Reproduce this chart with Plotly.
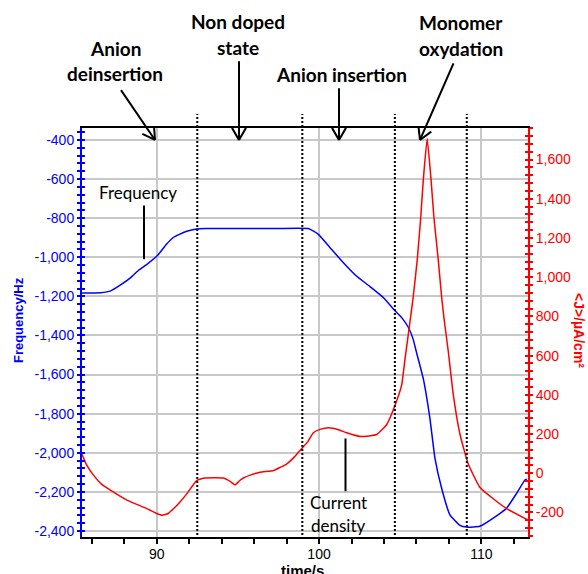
import math
import plotly.graph_objects as go

# ---------------- data ----------------
time_freq = [85.4, 86.0, 86.55, 87.17, 87.75, 88.4, 88.9, 89.4, 90.06, 90.6, 91.02, 91.4,
             91.85, 92.46, 93.0, 95.0, 97.0, 99.34, 99.96, 100.68, 101.5, 102.3, 103.14,
             103.96, 104.68, 105.1, 105.5, 105.8, 106.0, 106.42, 106.83, 107.14, 107.55,
             108.06, 108.68, 109.09, 109.9, 110.73, 111.55, 112.17, 112.68, 112.8]
freq_hz = [-1183, -1183, -1182, -1172, -1143, -1104, -1065, -1036, -990, -934, -899, -883,
           -867, -855, -853, -853, -853, -853, -883, -951, -1028, -1096, -1150,
           -1206, -1274, -1310, -1358, -1420, -1486, -1621, -1825, -2028, -2181,
           -2317, -2371, -2380, -2376, -2334, -2283, -2207, -2139, -2135]

time_cur = [85.4, 85.7, 86.13, 86.6, 87.17, 88.2, 89.4, 90.0, 90.33, 90.7, 91.05, 91.45,
            91.85, 92.46, 92.97, 94.1, 94.5, 94.83, 95.1, 95.34, 95.8, 96.37, 97.2, 97.6,
            98.0, 98.5, 98.9, 99.3, 99.65, 100.06, 100.6, 101.2, 101.7, 102.6, 103.55,
            104.17, 104.68, 105.09, 105.3, 105.58, 105.8, 106.05, 106.26, 106.42, 106.66,
            106.9, 107.08, 107.34, 107.55, 107.7, 107.96, 108.27, 108.68, 109.19, 109.9,
            110.73, 111.55, 112.88]
current = [97, 40, -12, -55, -87, -138, -180, -205, -214, -205, -180, -145,
           -105, -37, -24, -24, -40, -59, -38, -24, -8, 5, 14, 30,
           47, 85, 123, 160, 207, 224, 232, 222, 207, 187, 198,
           249, 347, 451, 586, 760, 899, 1091, 1301, 1495, 1707,
           1495, 1301, 1091, 899, 788, 621, 400, 199, 47, -71,
           -130, -180, -239]

left_ticks = [-2400, -2200, -2000, -1800, -1600, -1400, -1200, -1000, -800, -600, -400]
left_labels = ["-2,400", "-2,200", "-2,000", "-1,800", "-1,600", "-1,400", "-1,200",
               "-1,000", "-800", "-600", "-400"]
right_ticks = [-200, 0, 200, 400, 600, 800, 1000, 1200, 1400, 1600]
right_labels = ["-200", "0", "200", "400", "600", "800", "1,000", "1,200", "1,400", "1,600"]
x_ticks = [90, 100, 110]
x_labels = ["90", "100", "110"]
phase_bounds = [92.5, 98.97, 104.67, 109.1]

X_RANGE = [85.4, 112.87]
Y_RANGE = [-2430.5, -339]
Y2_RANGE = [-325, 1761]

# ---------------- layout helpers ----------------
W, H = 588, 574
L, R, T, B = 82, 528, 128, 539


def px(x):
    return (x - L) / (R - L)


def py(y):
    return (B - y) / (B - T)


def tx(t):
    return (t - X_RANGE[0]) / (X_RANGE[1] - X_RANGE[0])


BLUE = "#0000ff"
RED = "#ff0000"
GRID = "#c8c8c8"
TICKFONT = "Liberation Sans, Arial, sans-serif"
ANNFONT = "Lato, Carlito, sans-serif"

fig = go.Figure()
fig.add_trace(go.Scatter(x=time_freq, y=freq_hz, mode="lines",
                         line=dict(color=BLUE, width=1.5, shape="spline", smoothing=0.4),
                         yaxis="y", showlegend=False, hoverinfo="skip"))
fig.add_trace(go.Scatter(x=time_cur, y=current, mode="lines",
                         line=dict(color=RED, width=1.5, shape="spline", smoothing=0.4),
                         yaxis="y2", showlegend=False, hoverinfo="skip"))
# empty traces so the inner-tick overlay axes get drawn
fig.add_trace(go.Scatter(x=[], y=[], xaxis="x", yaxis="y3", showlegend=False, hoverinfo="skip"))
fig.add_trace(go.Scatter(x=[], y=[], xaxis="x", yaxis="y4", showlegend=False, hoverinfo="skip"))

shapes = []
# dotted phase boundaries (extend above the plot)
for t in phase_bounds:
    shapes.append(dict(type="line", xref="paper", yref="paper",
                       x0=tx(t), x1=tx(t), y0=py(537), y1=py(114),
                       line=dict(color="black", width=2, dash="2px,2px")))

# pointer lines
for (x0, y0, x1, y1) in [(144, 206, 144, 260), (345.5, 440, 345.5, 493)]:
    shapes.append(dict(type="line", xref="paper", yref="paper",
                       x0=px(x0), x1=px(x1), y0=py(y0), y1=py(y1),
                       line=dict(color="black", width=2)))

# arrows with open V heads
arrows = [((121, 90), (155, 140)), ((239, 61), (239, 140)),
          ((339, 88), (339, 140)), ((453.5, 63), (420, 140))]
HL = 14
ANG = math.radians(30)
for (sx, sy), (ex, ey) in arrows:
    shapes.append(dict(type="line", xref="paper", yref="paper",
                       x0=px(sx), y0=py(sy), x1=px(ex), y1=py(ey),
                       line=dict(color="black", width=2)))
    dx, dy = ex - sx, ey - sy
    n = math.hypot(dx, dy)
    ux, uy = dx / n, dy / n
    for s in (1, -1):
        ca, sa = math.cos(s * ANG), math.sin(s * ANG)
        rx = ux * ca - uy * sa
        ry = ux * sa + uy * ca
        wx, wy = ex - HL * rx, ey - HL * ry
        shapes.append(dict(type="line", xref="paper", yref="paper",
                           x0=px(wx), y0=py(wy), x1=px(ex), y1=py(ey),
                           line=dict(color="black", width=2)))

annotations = []


def add_text(text, x, y, size, bold=True, color="black", angle=0, family=ANNFONT,
             yanchor="middle"):
    annotations.append(dict(text=text, xref="paper", yref="paper", x=px(x), y=py(y),
                            xanchor="center", yanchor=yanchor, showarrow=False,
                            textangle=angle,
                            font=dict(family=family, size=size, color=color,
                                      weight="bold" if bold else "normal")))


add_text("Anion", 115, 48, 19)
add_text("deinsertion", 115, 73, 19)
add_text("Non doped", 238, 21, 19)
add_text("state", 238, 47, 19)
add_text("Anion insertion", 341, 74, 19)
add_text("Monomer", 461, 22, 19)
add_text("oxydation", 461, 48, 19)
add_text("Frequency", 137.5, 193, 17, bold=False)
add_text("Current", 338, 504, 17, bold=False)
add_text("density", 338, 527, 17, bold=False)
add_text("Frequency/Hz", 18, 321, 13, color=BLUE, angle=-90, family=TICKFONT)
add_text("&lt;J&gt;/µA/cm²", 579, 331, 14, color=RED, angle=90, family=TICKFONT)
add_text("time/s", 302, 562, 15, family=TICKFONT, yanchor="top")

tick_common = dict(tickwidth=1.5, showgrid=False, zeroline=False)

fig.update_layout(
    width=W, height=H,
    margin=dict(l=L, r=W - R, t=T, b=H - B, pad=0),
    paper_bgcolor="white", plot_bgcolor="white",
    showlegend=False,
    xaxis=dict(range=X_RANGE, tickvals=x_ticks, ticktext=x_labels,
               ticks="outside", ticklen=5, tickwidth=1.5, tickcolor="black",
               showline=True, linecolor="black", linewidth=2, mirror=True,
               showgrid=True, gridcolor=GRID, gridwidth=1.5, zeroline=False,
               ticklabelstandoff=-2,
               tickfont=dict(family=TICKFONT, size=14, color="black"),
               minor=dict(dtick=2, tick0=0, ticks="outside", ticklen=5,
                          tickwidth=1.5, tickcolor="black", showgrid=False)),
    yaxis=dict(range=Y_RANGE, tickvals=left_ticks, ticktext=left_labels,
               ticks="outside", ticklen=3, tickwidth=1.5, tickcolor=BLUE,
               showline=True, linecolor=BLUE, linewidth=2,
               showgrid=True, gridcolor=GRID, gridwidth=1.5, zeroline=False,
               tickfont=dict(family=TICKFONT, size=14, color=BLUE),
               minor=dict(dtick=40, tick0=0, ticks="outside", ticklen=3,
                          tickwidth=1.5, tickcolor=BLUE, showgrid=False)),
    yaxis2=dict(range=Y2_RANGE, tickvals=right_ticks, ticktext=right_labels,
                overlaying="y", side="right", anchor="x",
                ticks="outside", ticklen=3, tickwidth=1.5, tickcolor=RED,
                showline=True, linecolor=RED, linewidth=2,
                showgrid=False, zeroline=False,
                tickfont=dict(family=TICKFONT, size=14, color=RED),
                minor=dict(dtick=40, tick0=0, ticks="outside", ticklen=3,
                           tickwidth=1.5, tickcolor=RED, showgrid=False)),
    yaxis3=dict(range=Y_RANGE, tickvals=left_ticks, overlaying="y", side="left",
                anchor="x", showticklabels=False, showline=False,
                ticks="inside", ticklen=3, tickcolor=BLUE, **tick_common,
                minor=dict(dtick=40, tick0=0, ticks="inside", ticklen=3,
                           tickwidth=1.5, tickcolor=BLUE, showgrid=False)),
    yaxis4=dict(range=Y2_RANGE, tickvals=right_ticks, overlaying="y", side="right",
                anchor="x", showticklabels=False, showline=False,
                ticks="inside", ticklen=3, tickcolor=RED, **tick_common,
                minor=dict(dtick=40, tick0=0, ticks="inside", ticklen=3,
                           tickwidth=1.5, tickcolor=RED, showgrid=False)),
    shapes=shapes,
    annotations=annotations,
)

fig.write_html("out.html")
